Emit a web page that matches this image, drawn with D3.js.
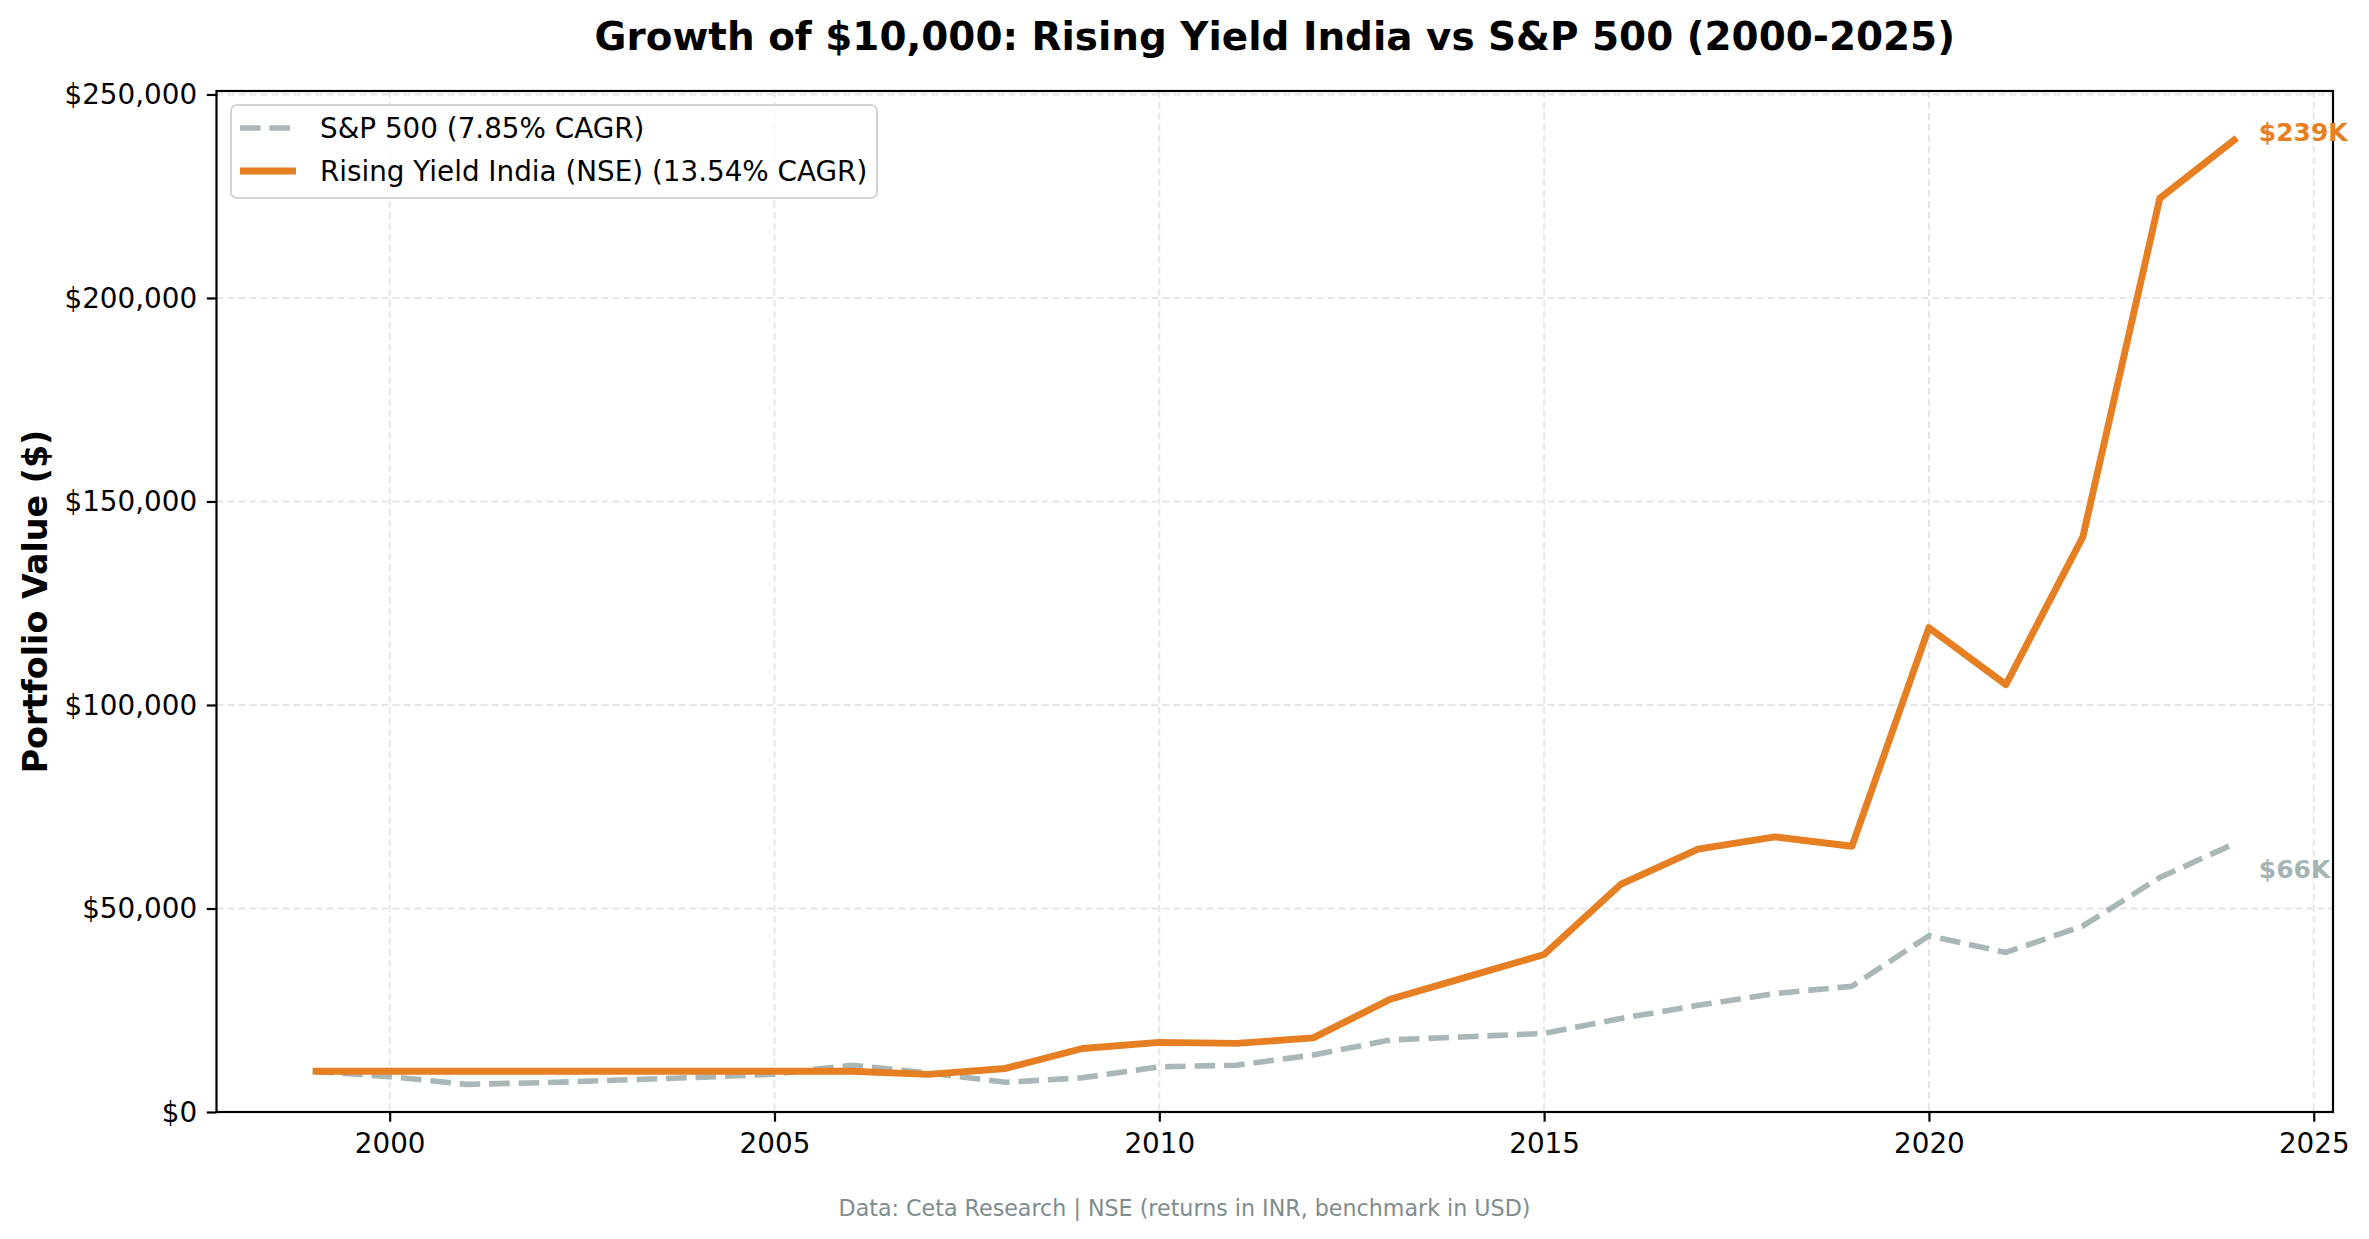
<!DOCTYPE html>
<html>
<head>
<meta charset="utf-8">
<script src="https://cdn.jsdelivr.net/npm/d3@7/dist/d3.min.js"></script>
<style>
  html, body { margin: 0; padding: 0; background: #ffffff; }
  svg { display: block; font-family: "DejaVu Sans", sans-serif; }
</style>
</head>
<body>
<svg id="chart" width="2369" height="1239"></svg>
<script>
// ---------------- Data ----------------
const years = [1999, 2000, 2001, 2002, 2003, 2004, 2005, 2006, 2007, 2008, 2009, 2010, 2011,
               2012, 2013, 2014, 2015, 2016, 2017, 2018, 2019, 2020, 2021, 2022, 2023, 2024];
const sp500Values = [10000, 8700, 6800, 7200, 7850, 8500, 9300, 11500, 9600, 7300, 8400, 11100, 11500,
                     14000, 17700, 18500, 19300, 23000, 26200, 29100, 30900, 43300, 39200, 45700, 57600, 66200];
const risingYieldValues = [10000, 10000, 10000, 10000, 10000, 10000, 10000, 10000, 9250, 10700, 15600, 17100, 16850,
                           18200, 27700, 33200, 38700, 56000, 64600, 67600, 65300, 119000, 105000, 141300, 224500, 239300];
const seriesNames = ["S&P 500 (7.85% CAGR)", "Rising Yield India (NSE) (13.54% CAGR)"];
const endLabels = ["$66K", "$239K"];
const xTickValues = [2000, 2005, 2010, 2015, 2020, 2025];
const yTickValues = [0, 50000, 100000, 150000, 200000, 250000];
const titleText = "Growth of $10,000: Rising Yield India vs S&P 500 (2000-2025)";
const yLabelText = "Portfolio Value ($)";
const footText = "Data: Ceta Research | NSE (returns in INR, benchmark in USD)";

// ---------------- Layout ----------------
const W = 2369, H = 1239;
const plot = { left: 216.5, right: 2333, top: 91, bottom: 1112 };
const svg = d3.select("#chart");

const x = d3.scaleLinear().domain([1997.75, 2025.25]).range([plot.left, plot.right]);
const y = d3.scaleLinear().domain([0, 250850]).range([plot.bottom, plot.top]);

const gridColor = "#e6e6e6";
const orange = "#e67e22";
const gray = "#95a5a6";

// Grid
const grid = svg.append("g");
grid.selectAll("line.vx").data(xTickValues).enter().append("line")
  .attr("x1", d => x(d)).attr("x2", d => x(d))
  .attr("y1", plot.top).attr("y2", plot.bottom)
  .attr("stroke", gridColor).attr("stroke-width", 2).attr("stroke-dasharray", "7,4");
grid.selectAll("line.hy").data(yTickValues).enter().append("line")
  .attr("x1", plot.left).attr("x2", plot.right)
  .attr("y1", d => y(d)).attr("y2", d => y(d))
  .attr("stroke", gridColor).attr("stroke-width", 2).attr("stroke-dasharray", "7,4");

// Lines
const line = d3.line().x((d, i) => x(years[i])).y(d => y(d));
svg.append("path").datum(sp500Values)
  .attr("d", line).attr("fill", "none")
  .attr("stroke", gray).attr("stroke-opacity", 0.8)
  .attr("stroke-width", 5.6).attr("stroke-dasharray", "20.6,8.9");
svg.append("path").datum(risingYieldValues)
  .attr("d", line).attr("fill", "none")
  .attr("stroke", orange).attr("stroke-width", 6.9)
  .attr("stroke-linejoin", "round");

// Axes
const xAxis = d3.axisBottom(x).tickValues(xTickValues).tickFormat(d3.format("d"))
  .tickSize(9.7).tickPadding(9.7).tickSizeOuter(0);
const gx = svg.append("g").attr("transform", `translate(0,${plot.bottom})`).call(xAxis);
const yAxis = d3.axisLeft(y).tickValues(yTickValues).tickFormat(d => "$" + d3.format(",")(d))
  .tickSize(9.7).tickPadding(9.7).tickSizeOuter(0);
const gy = svg.append("g").attr("transform", `translate(${plot.left},0)`).call(yAxis);
[gx, gy].forEach(g => {
  g.select(".domain").remove();
  g.selectAll(".tick line").attr("stroke", "#000").attr("stroke-width", 2.2);
  g.selectAll(".tick text").attr("fill", "#000")
    .style("font-family", "DejaVu Sans").style("font-size", "27.8px");
});
gx.selectAll(".tick text").attr("dy", "0.76em");
gy.selectAll(".tick text").attr("dy", "0.34em");

// Frame
svg.append("rect")
  .attr("x", plot.left).attr("y", plot.top)
  .attr("width", plot.right - plot.left).attr("height", plot.bottom - plot.top)
  .attr("fill", "none").attr("stroke", "#000").attr("stroke-width", 2.2);

// End labels
const last = years.length - 1;
svg.append("text")
  .attr("x", x(years[last]) + 22).attr("y", y(risingYieldValues[last]) + 3)
  .attr("fill", orange).attr("font-weight", "bold").attr("font-size", "25px")
  .text(endLabels[1]);
svg.append("text")
  .attr("x", x(years[last]) + 22).attr("y", y(sp500Values[last]) + 35)
  .attr("fill", gray).attr("fill-opacity", 0.85).attr("font-weight", "bold").attr("font-size", "25px")
  .text(endLabels[0]);

// Legend
const lg = svg.append("g");
lg.append("rect").attr("x", 231).attr("y", 105).attr("width", 646).attr("height", 93)
  .attr("rx", 6).attr("fill", "#fff").attr("fill-opacity", 0.8)
  .attr("stroke", "#d3d3d3").attr("stroke-width", 2);
const legendRows = [
  { name: seriesNames[0], color: gray, opacity: 0.8, width: 5.6, dash: "20.6,8.9", cy: 128 },
  { name: seriesNames[1], color: orange, opacity: 1, width: 6.9, dash: null, cy: 171 }
];
legendRows.forEach(r => {
  lg.append("line").attr("x1", 240).attr("x2", 296).attr("y1", r.cy).attr("y2", r.cy)
    .attr("stroke", r.color).attr("stroke-opacity", r.opacity).attr("stroke-width", r.width)
    .attr("stroke-dasharray", r.dash);
  lg.append("text").attr("x", 320).attr("y", r.cy + 10)
    .attr("font-size", "27.8px").attr("fill", "#000").text(r.name);
});

// Title
svg.append("text").attr("x", (plot.left + plot.right) / 2).attr("y", 50)
  .attr("text-anchor", "middle").attr("font-weight", "bold").attr("font-size", "38.9px")
  .attr("fill", "#000").text(titleText);

// Y label
svg.append("text")
  .attr("transform", `translate(35,${(plot.top + plot.bottom) / 2}) rotate(-90)`)
  .attr("text-anchor", "middle").attr("dominant-baseline", "central")
  .attr("font-weight", "bold").attr("font-size", "33.3px").attr("fill", "#000")
  .text(yLabelText);

// Footnote
svg.append("text").attr("x", W / 2).attr("y", 1216)
  .attr("text-anchor", "middle").attr("font-size", "22.2px").attr("fill", "#7f8c8d")
  .text(footText);
</script>
</body>
</html>
